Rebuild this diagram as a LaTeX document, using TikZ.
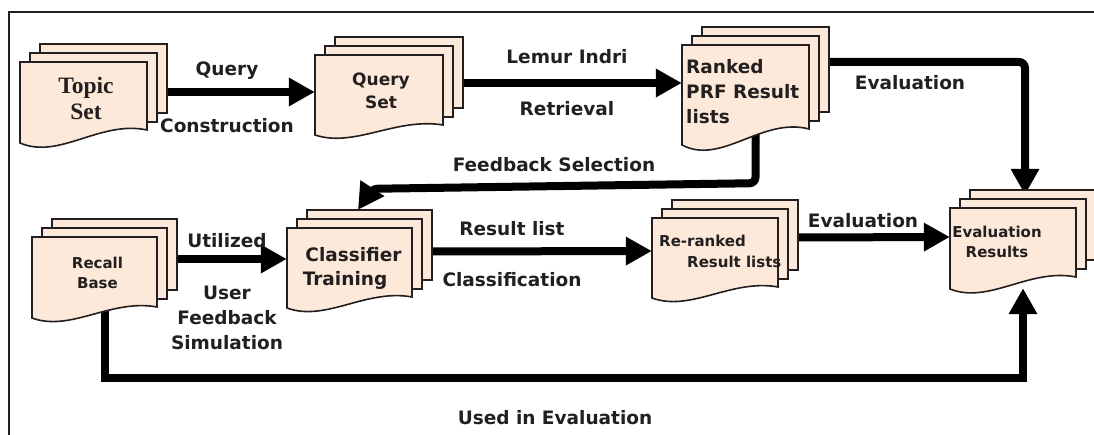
\documentclass[tikz,border=0pt]{standalone}
\usepackage{fontspec}
\setmainfont{DejaVu Sans}
\newfontfamily\titleserif{Liberation Serif}
\usetikzlibrary{arrows.meta,calc}
\definecolor{pagefill}{HTML}{FDE9D9}
\definecolor{ink}{HTML}{231F20}

% Stack of three pages: #1/#2 top-left of the front page,
% #3 width, #4 height of the right edge, #5 extra drop of the wavy bottom on the left
\newcommand{\docstack}[5]{%
  \draw[docpage] ({#1+20},{#2-18}) rectangle ++(#3,{#4+1});
  \draw[docpage] ({#1+10},{#2-9}) rectangle ++(#3,{#4+1});
  \draw[docpage] (#1,#2) -- ++(#3,0) -- ++(0,#4)
    .. controls ({#1+0.63*#3},{#2+#4-0.77*#5}) and ({#1+0.31*#3},{#2+#4+2.3*#5})
    .. (#1,{#2+#4+#5}) -- cycle;
}

\begin{document}
\begin{tikzpicture}[x=1pt,y=-1pt,
  docpage/.style={draw=ink, line width=1.6pt, fill=pagefill},
  anchorbox/.style={inner sep=0, draw=none},
  flow/.style={draw=black, line width=8pt, -{Triangle[length=26pt,width=27pt]}},
  edgelbl/.style={font=\bfseries\fontsize{18.5}{25}\selectfont, text=ink, align=center, inner sep=0},
  smalllbl/.style={font=\bfseries\fontsize{15}{20}\selectfont, text=ink, inner sep=0},
]
\useasboundingbox (0,0) rectangle (1094,435);

% outer frame
\draw[ink, line width=2pt] (9,435) -- (9,12) -- (1094,12);

% invisible boxes over the front pages, used to attach the connectors
\node[anchorbox, minimum width=127pt, minimum height=68pt] (topic) at (83.5,96) {};
\node[anchorbox, minimum width=128pt, minimum height=70pt] (query) at (379,90) {};
\node[anchorbox, minimum width=127pt, minimum height=84pt] (ranked) at (745.5,87) {};
\node[anchorbox, minimum width=125pt, minimum height=70pt] (recall) at (94.5,272) {};
\node[anchorbox, minimum width=125pt, minimum height=69pt] (classifier) at (349.5,262.5) {};
\node[anchorbox, minimum width=126pt, minimum height=69pt] (reranked) at (715,252.5) {};
\node[anchorbox, minimum width=126pt, minimum height=69pt] (evalres) at (1013,242.5) {};

% connectors first, so the pages cover their ends
\draw[flow] ($(topic.east |- query.west)+(20,2)$) -- ($(query.west)+(0,2)$);
\draw[flow] ($(query.east)+(20,-7)$) -- ($(ranked.west)+(0,-4)$);
\draw[flow, rounded corners=6pt] ($(ranked.south)+(10,0)$) -- ($(ranked.south)+(10,54)$)
  -- ($(classifier.north)+(22.5,-39)$) -- ($(classifier.north)+(8.5,-18)$);
\draw[flow, rounded corners=6pt] ($(ranked.east)+(19,-25)$) -| ($(evalres.north)+(12,-13)$);
\draw[flow] ($(recall.east)+(19,-13)$) -- ($(classifier.west)+(0,-3.5)$);
\draw[flow] ($(classifier.east)+(20,-11)$) -- ($(reranked.west)+(0,-1.5)$);
\draw[flow] ($(reranked.east)+(19,-15)$) -- ($(evalres.west)+(0,-5.5)$);
\draw[flow] ($(recall.south)+(10,0)$) |- ($(evalres.south)+(10,101)$) -- ($(evalres.south)+(10,11)$);

% page stacks
\docstack{20}{62}{127}{68}{13}
\docstack{315}{55}{128}{70}{10}
\docstack{682}{45}{127}{84}{16}
\docstack{32}{237}{125}{70}{11}
\docstack{287}{228}{125}{69}{11}
\docstack{652}{218}{126}{69}{11}
\docstack{950}{208}{126}{69}{12}

% texts inside the pages
\node[font=\titleserif\bfseries\fontsize{23.5}{26}\selectfont, text=ink, align=center, inner sep=0] (topictxt) at (86,98) {Topic\\Set};
\node[font=\bfseries\fontsize{17}{23}\selectfont, text=ink, align=center, inner sep=0] (querytxt) at (381,91) {Query\\Set};
\node[edgelbl, align=left, anchor=west] (rankedtxt) at (686,92) {Ranked\\PRF Result\\lists};
\node[edgelbl] (classtxtA) at (353.5,255) {Classifier};
\node[edgelbl] (classtxtB) at (345,280) {Training};
\node[smalllbl, align=center] (recalltxt) at (97.5,273) {Recall\\Base};
\node[smalllbl, anchor=west] (reranktxtA) at (659,241) {Re-ranked};
\node[smalllbl, anchor=west] (reranktxtB) at (687,262) {Result lists};
\node[smalllbl, align=center] (evaltxt) at (997,242) {Evaluation\\Results};

% connector labels
\node[edgelbl] (lq) at (227,71) {Query};
\node[edgelbl] (lc) at (227,126) {Construction};
\node[edgelbl] (ll) at (567,57) {Lemur Indri};
\node[edgelbl] (lr) at (567,109) {Retrieval};
\node[edgelbl] (lf) at (554,165) {Feedback Selection};
\node[edgelbl] (le1) at (910,83) {Evaluation};
\node[edgelbl] (le2) at (863,221) {Evaluation};
\node[edgelbl] (lu) at (227,241) {Utilized};
\node[edgelbl] (luf) at (227,318) {User\\Feedback\\Simulation};
\node[edgelbl] (lrl) at (512,229) {Result list};
\node[edgelbl] (lcl) at (512,280) {Classification};
\node[edgelbl] (lused) at (555,418) {Used in Evaluation};
\end{tikzpicture}
\end{document}
